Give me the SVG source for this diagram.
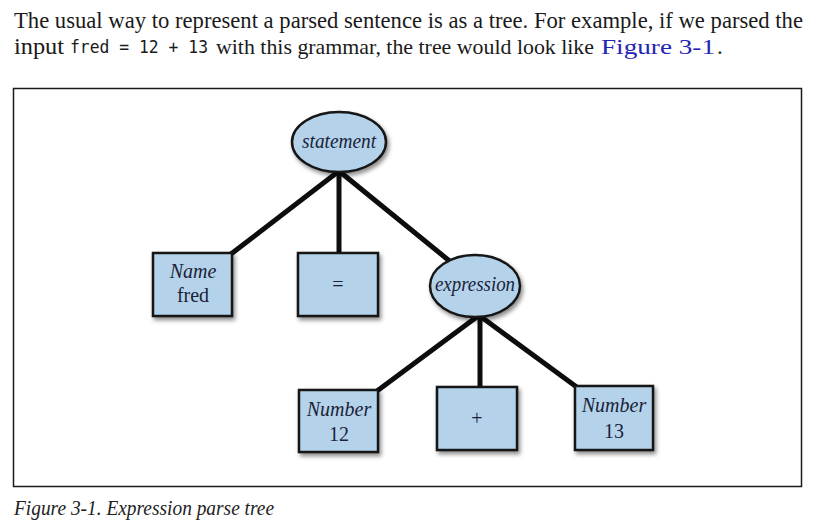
<svg xmlns="http://www.w3.org/2000/svg" width="824" height="528" viewBox="0 0 824 528">
<defs>
<filter id="sh" x="-20%" y="-20%" width="150%" height="160%">
<feDropShadow dx="2" dy="3" stdDeviation="2" flood-color="#000" flood-opacity="0.45"/>
</filter>
</defs>
<style>
.body{font-family:"Liberation Serif",serif;font-size:23px;fill:#1a1a1a}
.code{font-family:"DejaVu Sans Mono","Liberation Mono",monospace;font-size:17px;fill:#1a1a1a}
.link{fill:#2424b4}
.cap{font-family:"Liberation Serif",serif;font-style:italic;font-size:20px;fill:#222}
.node{fill:#b4d3ea;stroke:#161616;stroke-width:2.5;filter:url(#sh)}
.lbl{font-family:"Liberation Serif",serif;font-size:20px;fill:#1b2238;text-anchor:middle}
.it{font-style:italic}
.edge{stroke:#0d0d0d;stroke-width:5;fill:none}
</style>
<rect width="824" height="528" fill="#fff"/>
<text class="body" x="14" y="28" textLength="789" lengthAdjust="spacingAndGlyphs">The usual way to represent a parsed sentence is as a tree. For example, if we parsed the</text>
<text class="body" x="14" y="54" textLength="50" lengthAdjust="spacingAndGlyphs">input</text>
<text class="code" x="70" y="53" textLength="138" lengthAdjust="spacingAndGlyphs">fred = 12 + 13</text>
<text class="body" x="216" y="54" style="font-size:22px" textLength="378" lengthAdjust="spacingAndGlyphs">with this grammar, the tree would look like</text>
<text class="body link" x="601" y="54" style="font-size:22px" textLength="114" lengthAdjust="spacingAndGlyphs">Figure 3-1</text>
<text class="body" x="717" y="54">.</text>
<rect x="13.5" y="88.5" width="788" height="398" fill="none" stroke="#1a1a1a" stroke-width="1.5"/>
<g id="connectors">
<line class="edge" x1="339" y1="171" x2="231" y2="254"/>
<line class="edge" x1="339" y1="171" x2="339" y2="254"/>
<line class="edge" x1="339" y1="171" x2="452" y2="263"/>
<line class="edge" x1="478" y1="316" x2="377" y2="391"/>
<line class="edge" x1="480" y1="316" x2="480" y2="388"/>
<line class="edge" x1="480" y1="316" x2="578" y2="388"/>
</g>
<g id="statement">
<ellipse class="node" cx="339" cy="142" rx="47" ry="30"/>
<text class="lbl it" x="339" y="148" textLength="74" lengthAdjust="spacingAndGlyphs">statement</text>
</g>
<g id="name">
<rect class="node" x="153" y="253" width="79" height="63"/>
<text class="lbl it" x="193" y="278">Name</text>
<text class="lbl" x="193" y="302">fred</text>
</g>
<g id="equals">
<rect class="node" x="298" y="253" width="80" height="63"/>
<text class="lbl" x="338" y="291">=</text>
</g>
<g id="expression">
<ellipse class="node" cx="475" cy="286" rx="45" ry="31"/>
<text class="lbl it" x="475" y="291" textLength="80" lengthAdjust="spacingAndGlyphs">expression</text>
</g>
<g id="number12">
<rect class="node" x="299" y="390" width="79" height="62"/>
<text class="lbl it" x="339" y="416">Number</text>
<text class="lbl" x="339" y="441">12</text>
</g>
<g id="plus">
<rect class="node" x="437" y="387" width="80" height="63"/>
<text class="lbl" x="477" y="425">+</text>
</g>
<g id="number13">
<rect class="node" x="575" y="386" width="78" height="64"/>
<text class="lbl it" x="614" y="412">Number</text>
<text class="lbl" x="614" y="438">13</text>
</g>
<text class="cap" x="14" y="515" textLength="260" lengthAdjust="spacingAndGlyphs">Figure 3-1. Expression parse tree</text>
</svg>
